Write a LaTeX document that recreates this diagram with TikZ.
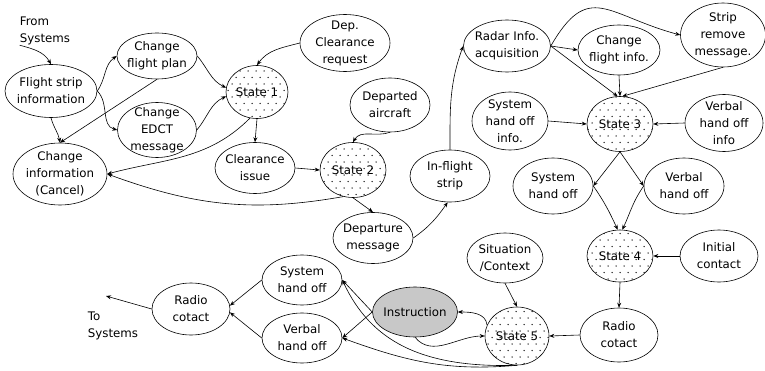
\documentclass[tikz,border=0pt]{standalone}
\usepackage{fontspec}
\setmainfont{DejaVu Sans}
\usetikzlibrary{arrows.meta,shapes.geometric,patterns}
\definecolor{tinta}{HTML}{000000}
\definecolor{tinta2}{HTML}{202020}
\definecolor{gris}{HTML}{C8C8C8}
\pgfdeclarepatternformonly{puntos}{\pgfqpoint{-1pt}{-1pt}}{\pgfqpoint{9pt}{14pt}}{\pgfqpoint{8pt}{13pt}}{%
  \pgfpathcircle{\pgfqpoint{0pt}{0pt}}{0.75pt}%
  \pgfpathcircle{\pgfqpoint{4pt}{6.5pt}}{0.75pt}%
  \pgfusepath{fill}}
\tikzset{
  nodo/.style={ellipse,draw=tinta,line width=0.6pt,fill=white,inner xsep=-4pt,inner ysep=-4pt,align=center,font=\fontsize{11.8}{17}\selectfont},
  estado/.style={nodo,pattern=puntos,pattern color=tinta2,minimum width=66pt,minimum height=55pt},
  nodogris/.style={nodo,fill=gris},
  tam/.style 2 args={minimum width=#1pt,minimum height=#2pt},
  texto/.style={align=left,inner sep=0pt,font=\fontsize{11.8}{17}\selectfont},
  arista/.style={draw=tinta,line width=0.6pt,-{Stealth[length=5pt,width=4pt]}},
}
\begin{document}
\begin{tikzpicture}[x=1pt,y=1pt]
  \useasboundingbox (0,0) rectangle (765,370);
  % entradas y salidas
  \node[texto] (desde) at (45,339) {From\\Systems};
  \node[texto] (hacia) at (113,44) {To\\Systems};
  \coordinate (salida) at (106,74);
  % parte de salida
  \node[nodo,tam={92}{53}] (tira) at (51,279) {Flight strip\\information};
  \node[nodo,tam={80}{46}] (cfp) at (157,314) {Change\\flight plan};
  \node[nodo,tam={79}{55}] (edct) at (157,240) {Change\\EDCT\\message};
  \node[nodo,tam={94}{62}] (cinfo) at (60,196) {Change\\information\\(Cancel)};
  \node[estado,tam={62}{53}] (st1) at (257,278) {State 1};
  \node[nodo,tam={90}{57}] (dcr) at (345,327) {Dep.\\Clearance\\request};
  \node[nodo,tam={80}{54}] (dep) at (390,265) {Departed\\aircraft};
  \node[nodo,tam={80}{51}] (ciss) at (255,202) {Clearance\\issue};
  \node[estado] (st2) at (353,200) {State 2};
  \node[nodo,tam={80}{51}] (dmsg) at (373,132) {Departure\\message};
  \node[nodo,tam={80}{52}] (infl) at (450,194) {In-flight\\strip};
  % en ruta
  \node[nodo,tam={87}{52}] (radar) at (507,324) {Radar Info.\\acquisition};
  \node[nodo,tam={82}{50}] (cfi) at (619,320) {Change\\flight info.};
  \node[nodo,tam={85}{64}] (srm) at (723,335) {Strip\\remove\\message.};
  \node[nodo,tam={76}{58}] (shoi) at (510,249) {System\\hand off\\info.};
  \node[estado] (st3) at (620,246) {State 3};
  \node[nodo,tam={78}{57}] (vhoi) at (724,247) {Verbal\\hand off\\info};
  \node[nodo,tam={80}{56}] (shoR) at (553,184) {System\\hand off};
  \node[nodo,tam={80}{56}] (vhoR) at (684,184) {Verbal\\hand off};
  \node[estado,tam={66}{52}] (st4) at (620,114) {State 4};
  \node[nodo,tam={78}{52}] (ic) at (719,114) {Initial\\contact};
  \node[nodo,tam={78}{54}] (rcR) at (619,35) {Radio\\cotact};
  % llegada
  \node[estado,tam={64}{58}] (st5) at (517,34) {State 5};
  \node[nodo,tam={76}{50}] (sit) at (505,112) {Situation\\/Context};
  \node[nodogris,tam={85}{50}] (instr) at (415,58) {Instruction};
  \node[nodo,tam={80}{50}] (shoL) at (302,90) {System\\hand off};
  \node[nodo,tam={80}{50}] (vhoL) at (302,32) {Verbal\\hand off};
  \node[nodo,tam={78}{52}] (rcL) at (191,61) {Radio\\cotact};
  % aristas
  \draw[arista] (desde.south west) to[out=-15,in=120] (tira.north);
  \draw[arista] (tira.east) to[out=55,in=215] (cfp.west);
  \draw[arista] (tira.east) to[out=-45,in=165] (edct.west);
  \draw[arista] (tira.south) to[out=-75,in=100] (cinfo.north);
  \draw[arista] (cfp.south) -- (cinfo.north);
  \draw[arista] (cfp.east) to[out=-50,in=155] (st1.172);
  \draw[arista] (edct.east) to[out=50,in=205] (st1.188);
  \draw[arista] (dcr.west) to[out=195,in=55] (st1.north);
  \draw[arista] (st1.south) -- (ciss.north);
  \draw[arista] (st1.255) to[out=225,in=15] (cinfo.east);
  \draw[arista] (ciss.east) -- (st2.west);
  \draw[arista] (dep.south) to[out=200,in=60] (st2.north);
  \draw[arista] (st2.250) to[out=190,in=-20] (cinfo.east);
  \draw[arista] (st2.south) -- (dmsg.north);
  \draw[arista] (dmsg.east) to[out=35,in=235] (infl.265);
  \draw[arista] (infl.north) to[out=90,in=-110] (radar.west);
  \draw[arista] (radar.east) -- (cfi.west);
  \draw[arista] (radar.east) to[out=60,in=165,looseness=1.5] (srm.west);
  \draw[arista] (radar.east) -- (st3.95);
  \draw[arista] (cfi.south) -- (st3.north);
  \draw[arista] (srm.south) -- (st3.85);
  \draw[arista] (shoi.east) -- (st3.west);
  \draw[arista] (vhoi.west) -- (st3.east);
  \draw[arista] (st3.south) -- (shoR.east);
  \draw[arista] (st3.south) -- (vhoR.west);
  \draw[arista] (shoR.east) to[out=-55,in=115] (st4.95);
  \draw[arista] (vhoR.west) to[out=-125,in=65] (st4.85);
  \draw[arista] (ic.west) -- (st4.east);
  \draw[arista] (st4.south) -- (rcR.north);
  \draw[arista] (rcR.west) -- (st5.east);
  \draw[arista] (sit.south) -- (st5.north);
  \draw[arista] (st5.160) to[out=95,in=0] (instr.east);
  \draw[arista] (instr.south) to[out=-50,in=180] (st5.west);
  \draw[arista] (instr.west) -- (shoL.east);
  \draw[arista] (instr.west) -- (vhoL.east);
  \draw[arista] (st5.south) .. controls +(-97,-3) and +(28,-60) .. (shoL.east);
  \draw[arista] (st5.south) to[out=185,in=-20] (vhoL.east);
  \draw[arista] (shoL.west) -- (rcL.5);
  \draw[arista] (vhoL.west) -- (rcL.-5);
  \draw[arista] (rcL.west) -- (salida);
\end{tikzpicture}
\end{document}
